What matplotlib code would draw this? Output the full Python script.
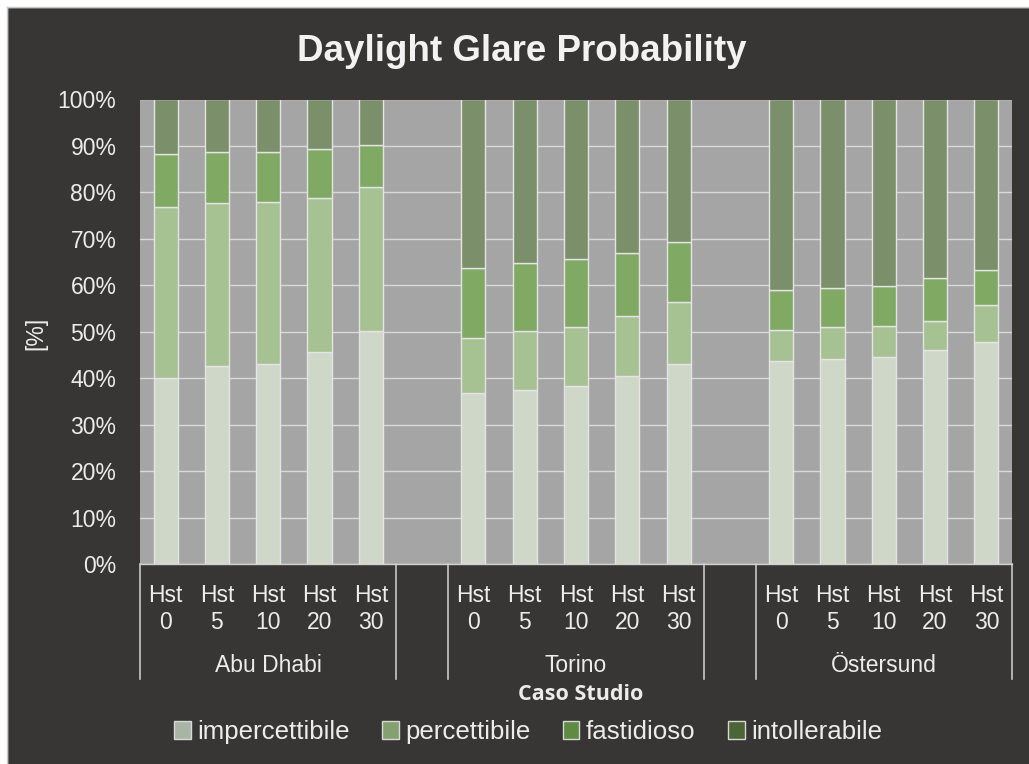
import matplotlib
matplotlib.use("Agg")
import matplotlib.pyplot as plt
from matplotlib.patches import Rectangle, Patch
import numpy as np

# ----------------------------------------------------------------------------------------------------------------------
#  DATA
# ----------------------------------------------------------------------------------------------------------------------
cities       = ['Abu Dhabi', 'Torino', 'Östersund']
hst_labels   = ['0', '5', '10', '20', '30']
series_names = ['impercettibile', 'percettibile', 'fastidioso', 'intollerabile']

# percent per bar, order: Abu Dhabi Hst 0..30, Torino Hst 0..30, Östersund Hst 0..30
impercettibile = [40.0, 42.6, 43.1, 45.7, 50.2,
                  36.9, 37.5, 38.3, 40.5, 43.0,
                  43.8, 44.1, 44.6, 46.1, 47.7]
percettibile   = [36.9, 35.2, 34.9, 33.2, 30.9,
                  11.8, 12.7, 12.7, 12.9, 13.5,
                   6.6,  6.9,  6.6,  6.3,  8.1]
fastidioso     = [11.4, 10.8, 10.8, 10.4,  9.1,
                  15.0, 14.5, 14.6, 13.5, 12.9,
                   8.6,  8.5,  8.7,  9.1,  7.6]
intollerabile  = [11.7, 11.4, 11.2, 10.7,  9.8,
                  36.3, 35.3, 34.4, 33.1, 30.6,
                  41.0, 40.5, 40.1, 38.5, 36.6]

# ----------------------------------------------------------------------------------------------------------------------
#  STYLE
# ----------------------------------------------------------------------------------------------------------------------
W, H    = 1029, 764
bg      = '#383634'
txt     = '#ececec'
bar_col = ['#cfd8c8', '#a6c192', '#80aa64', '#7b906a']
leg_col = ['#aab4a4', '#85a06f', '#5e8a42', '#4b6536']
font    = ['Liberation Sans', 'DejaVu Sans']

plt.rcParams['font.family'] = font

fig = plt.figure(figsize=(W / 100, H / 100), dpi=100, facecolor=bg)

# white strip top/left with thin light border
fig.patches.append(Rectangle((0, 1 - 7 / H), 1, 7 / H, transform=fig.transFigure, color='white', zorder=0))
fig.patches.append(Rectangle((0, 0), 7 / W, 1, transform=fig.transFigure, color='white', zorder=0))
fig.add_artist(plt.Line2D([7 / W, 1], [1 - 7 / H, 1 - 7 / H], transform=fig.transFigure, color='#c8c8c8', lw=1))
fig.add_artist(plt.Line2D([7 / W, 7 / W], [0, 1 - 7 / H], transform=fig.transFigure, color='#c8c8c8', lw=1))

x0, x1, ytop, ybot = 140, 1012, 99.5, 564
ax = fig.add_axes([x0 / W, 1 - ybot / H, (x1 - x0) / W, (ybot - ytop) / H])
ax.set_facecolor('#a5a5a5')

# bar positions: 5 bars per city, one empty slot between groups
pos = np.concatenate([np.arange(5) + 6 * g for g in range(3)])

data    = [impercettibile, percettibile, fastidioso, intollerabile]
bottoms = np.zeros(len(pos))
for k, vals in enumerate(data):
    ax.bar(pos, vals, bottom=bottoms, width=0.47, color=bar_col[k],
           edgecolor='#e4e4e4', linewidth=1.0, zorder=3)
    bottoms += np.array(vals)

ax.set_xlim(-0.5, 16.5)
ax.set_ylim(0, 100)
ax.set_yticks(np.arange(0, 101, 10))
ax.set_yticklabels([f'{v}%' for v in range(0, 101, 10)], color=txt, fontsize=16.5)
ax.tick_params(axis='y', length=0, pad=17)
ax.set_xticks([])
ax.grid(axis='y', color='#d9d9d9', linewidth=1.0, zorder=1)
for s in ['top', 'right']:
    ax.spines[s].set_visible(False)
ax.spines['left'].set_visible(False)
ax.spines['bottom'].set_color('#d0d0d0')
ax.spines['bottom'].set_linewidth(1.0)


def ay(ypix):
    return (ybot - ypix) / (ybot - ytop)


tr = ax.get_xaxis_transform()

# category separators
for xs in [-0.5, 4.5, 5.5, 10.5, 11.5, 16.5]:
    ax.plot([xs, xs], [0, ay(679)], transform=tr, color='#c8c8c8', lw=1.2, clip_on=False)

# tick labels
for p, lab in zip(pos, hst_labels * 3):
    ax.text(p, ay(602), 'Hst', transform=tr, ha='center', va='baseline', color=txt, fontsize=16.5)
    ax.text(p, ay(629), lab, transform=tr, ha='center', va='baseline', color=txt, fontsize=16.5)

for g, city in enumerate(cities):
    ax.text(6 * g + 2, ay(672), city, transform=tr, ha='center', va='baseline', color=txt, fontsize=16.5)

fig.text(581 / W, 1 - 700 / H, 'Caso Studio', ha='center', va='baseline', color=txt,
         fontsize=15.5, fontweight='bold', family=['Open Sans', 'DejaVu Sans'])

fig.text(36 / W, 1 - 333 / H, '[%]', rotation=90, ha='center', va='center', color=txt, fontsize=16.5)

fig.text(522 / W, 1 - 61 / H, 'Daylight Glare Probability', ha='center', va='baseline',
         color='#f2f2f2', fontsize=26.5, fontweight='bold')

handles = [Patch(facecolor=leg_col[k], edgecolor='#d8d8d8', linewidth=1.0) for k in range(4)]
leg = fig.legend(handles, series_names, loc='center', bbox_to_anchor=(528 / W, 1 - 732 / H), ncol=4,
                 frameon=False, fontsize=18.6, handlelength=0.65, handleheight=0.65,
                 handletextpad=0.25, columnspacing=1.25, labelcolor=txt)

fig.savefig('out.png', dpi=100, facecolor=bg)
